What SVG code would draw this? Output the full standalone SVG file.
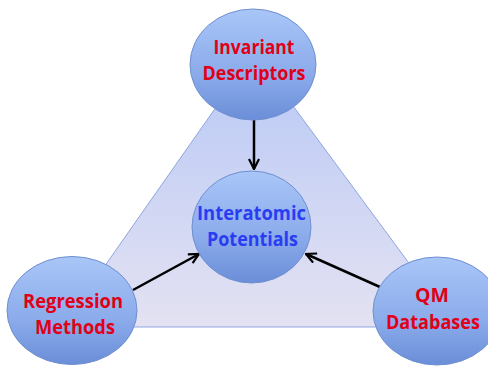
<svg xmlns="http://www.w3.org/2000/svg" width="488" height="367" viewBox="0 0 488 367">
<defs>
<linearGradient id="tri" x1="0" y1="0" x2="0" y2="1">
<stop offset="0" stop-color="#b8c8f6"/>
<stop offset="1" stop-color="#e4e2f2"/>
</linearGradient>
<linearGradient id="ball" x1="0" y1="0" x2="0" y2="1">
<stop offset="0" stop-color="#a9c6f8"/>
<stop offset="0.6" stop-color="#8aaaea"/>
<stop offset="1" stop-color="#6a8ed8"/>
</linearGradient>
<marker id="arr" viewBox="0 0 12 12" refX="11" refY="6" markerWidth="12" markerHeight="12" markerUnits="userSpaceOnUse" orient="auto">
<path d="M1,1 L11,6 L1,11" fill="none" stroke="#000" stroke-width="2.2"/>
</marker>
</defs>
<style>
.node{fill:url(#ball);stroke:#6f8fcf;stroke-width:1}
.red{font-family:"Open Sans","Liberation Sans",sans-serif;font-weight:bold;font-size:20px;fill:#e00018;text-anchor:middle}
.blue{font-family:"Open Sans","Liberation Sans",sans-serif;font-weight:bold;font-size:20px;fill:#2a3cf2;text-anchor:middle}
.conn line{stroke:#000;stroke-width:2.5;marker-end:url(#arr)}
</style>
<polygon id="triangle" points="254,53 62,327 456,327" fill="url(#tri)" stroke="#8ea6de" stroke-width="1"/>
<g class="conn" id="connectors">
<line x1="254" y1="120" x2="254" y2="169"/>
<line x1="133" y1="290" x2="199" y2="254"/>
<line x1="380" y1="287" x2="306" y2="254"/>
</g>
<g id="invariant">
<ellipse class="node" cx="253" cy="64.5" rx="63" ry="55.5"/>
<text class="red" x="254" y="54" textLength="81" lengthAdjust="spacingAndGlyphs">Invariant</text>
<text class="red" x="254" y="80" textLength="103" lengthAdjust="spacingAndGlyphs">Descriptors</text>
</g>
<g id="interatomic">
<ellipse class="node" cx="251.5" cy="227" rx="59.5" ry="56"/>
<text class="blue" x="251.5" y="220" textLength="109" lengthAdjust="spacingAndGlyphs">Interatomic</text>
<text class="blue" x="252.5" y="246" textLength="91" lengthAdjust="spacingAndGlyphs">Potentials</text>
</g>
<g id="regression">
<ellipse class="node" cx="72" cy="310.5" rx="65" ry="54"/>
<text class="red" x="73" y="308" textLength="100" lengthAdjust="spacingAndGlyphs">Regression</text>
<text class="red" x="75" y="334" textLength="80" lengthAdjust="spacingAndGlyphs">Methods</text>
</g>
<g id="qm">
<ellipse class="node" cx="437" cy="311" rx="64" ry="54"/>
<text class="red" x="432" y="302" textLength="34" lengthAdjust="spacingAndGlyphs">QM</text>
<text class="red" x="433" y="329" textLength="94" lengthAdjust="spacingAndGlyphs">Databases</text>
</g>
</svg>
